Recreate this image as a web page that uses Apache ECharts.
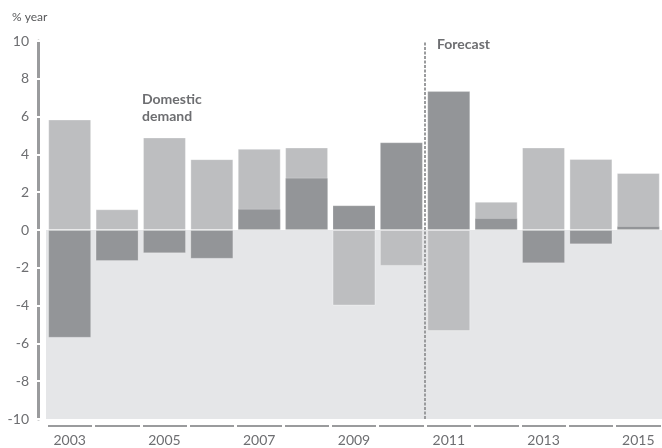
<!DOCTYPE html>
<html>
<head>
<meta charset="utf-8">
<script src="https://cdn.jsdelivr.net/npm/echarts@6/dist/echarts.min.js"></script>
<style>
  html, body { margin: 0; padding: 0; background: #fff; }
  #chart { width: 662px; height: 448px; }
</style>
</head>
<body>
<div id="chart"></div>
<script>
// years on the x axis
const years = ['2003','2004','2005','2006','2007','2008','2009','2010','2011','2012','2013','2014','2015'];
// light grey bars (domestic demand, except 2009-2011 where shades swap)
const lightBars = [5.85, 1.1, 4.9, 3.75, 4.3, 4.37, -4.0, -1.9, -5.35, 1.5, 4.37, 3.76, 3.02];
// dark grey bars (net exports, except 2009-2011)
const darkBars = [-5.7, -1.64, -1.23, -1.52, 1.12, 2.77, 1.31, 4.64, 7.35, 0.63, -1.76, -0.76, 0.21];
// position of the forecast divider, in category-boundary units
const forecastStart = 8;

const font = 'Lato, "Open Sans", sans-serif';
const txtColor = '#6d6e71';

const chart = echarts.init(document.getElementById('chart'));
chart.setOption({
  animation: false,
  grid: { left: 46, right: 0, top: 41, bottom: 29 },
  xAxis: [{
    type: 'category',
    data: years,
    position: 'bottom',
    offset: 7,
    axisLine: { onZero: false, lineStyle: { color: '#9a9b9d', width: 2 } },
    axisTick: { show: true, interval: 0, length: 4, lineStyle: { color: '#fff', width: 3 } },
    axisLabel: { interval: 1, margin: 7, color: txtColor, fontSize: 14, fontFamily: font },
    splitLine: { show: false }
  }, {
    // hidden value axis spanning category boundaries: gaps in the axis line + forecast divider
    type: 'value',
    min: 0, max: 13, interval: 1,
    position: 'bottom',
    offset: 7,
    z: 3,
    axisLine: { show: false, onZero: false },
    axisTick: { show: true, inside: true, length: 4, lineStyle: { color: '#fff', width: 3 } },
    axisLabel: { show: false },
    splitLine: { show: false }
  }],
  yAxis: [{
    type: 'value',
    min: -10, max: 10, interval: 2,
    offset: 8,
    axisLine: { show: true, onZero: false, lineStyle: { color: '#9a9b9d', width: 3 } },
    axisTick: { show: true, length: 4, lineStyle: { color: '#fff', width: 2 } },
    axisLabel: { margin: 9, color: txtColor, fontSize: 14, fontFamily: font },
    splitLine: { show: false }
  }, {
    type: 'value',
    position: 'left',
    min: -10, max: 10, interval: 2,
    offset: 8,
    z: 3,
    axisLine: { show: false, onZero: false },
    axisTick: { show: true, inside: true, length: 4, lineStyle: { color: '#fff', width: 2 } },
    axisLabel: { show: false },
    splitLine: { show: false }
  }],
  series: [{
    type: 'line',
    xAxisIndex: 1,
    yAxisIndex: 0,
    data: [],
    z: 1,
    silent: true,
    markArea: {
      silent: true,
      itemStyle: { color: '#e5e6e8' },
      data: [[{ yAxis: 0 }, { yAxis: -10 }]]
    },
    markLine: {
      silent: true,
      symbol: 'none',
      label: { show: false },
      lineStyle: { color: '#9a9b9d', width: 2, type: [3, 1.5] },
      data: [{ xAxis: forecastStart }]
    }
  }, {
    name: 'light',
    type: 'bar',
    data: lightBars,
    barWidth: 43,
    barGap: '-100%',
    z: 2,
    itemStyle: { color: '#bdbec0', borderColor: 'rgba(255,255,255,0.35)', borderWidth: 1 }
  }, {
    name: 'dark',
    type: 'bar',
    data: darkBars,
    barWidth: 43,
    barGap: '-100%',
    z: 3,
    itemStyle: { color: '#939598', borderColor: 'rgba(255,255,255,0.2)', borderWidth: 1 }
  }],
  graphic: [{
    type: 'text', left: 12, top: 11,
    style: { text: '% year', fill: '#58595b', font: '12px ' + font }
  }, {
    type: 'text', left: 142, top: 91,
    style: { text: 'Domestic\ndemand', fill: txtColor, font: 'bold 14px ' + font, lineHeight: 17 }
  }, {
    type: 'text', left: 142, top: 272,
    style: { text: 'Net exports', fill: txtColor, font: 'bold 14px ' + font }
  }, {
    type: 'text', left: 437, top: 37,
    style: { text: 'Forecast', fill: txtColor, font: 'bold 14px ' + font }
  }]
});
</script>
</body>
</html>
